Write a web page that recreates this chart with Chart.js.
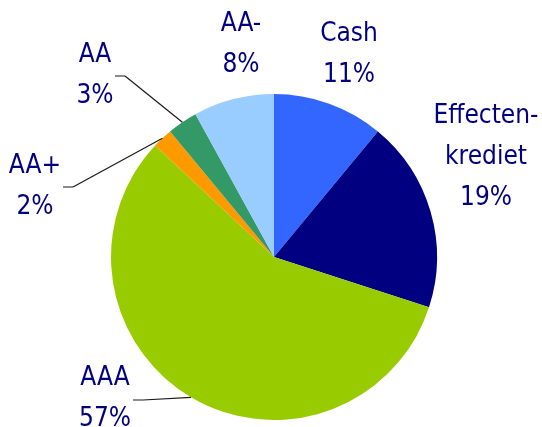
<!DOCTYPE html>
<html>
<head>
<meta charset="utf-8">
<script src="https://cdn.jsdelivr.net/npm/chart.js@4/dist/chart.umd.min.js"></script>
<style>
  html, body { margin: 0; padding: 0; background: #fff; }
  #wrap { width: 542px; height: 427px; }
</style>
</head>
<body>
<div id="wrap"><canvas id="myChart" width="542" height="427"></canvas></div>
<script>
// slice data, clockwise from 12 o'clock
var categories = ["Cash", "Effecten-krediet", "AAA", "AA+", "AA", "AA-"];
var shares = [11, 19, 57, 2, 3, 8];
var colors = ["#3366ff", "#000080", "#99cc00", "#ff9900", "#339966", "#99ccff"];

// where each label sits: centre x, first baseline y, optional leader elbow
var labelPos = [
	{ x: 349, y: 41 },
	{ x: 486, y: 123 },
	{ x: 105, y: 385, elbow: [133, 400] },
	{ x: 35, y: 173, elbow: [63, 187] },
	{ x: 95, y: 62, elbow: [115, 76] },
	{ x: 241, y: 31 },
];

function labelLines(name, value) {
	var lines = [];
	var i = name.indexOf("-");
	if (i > 0 && i < name.length - 1) {
		lines.push(name.slice(0, i + 1));
		lines.push(name.slice(i + 1));
	} else {
		lines.push(name);
	}
	lines.push(value + "%");
	return lines;
}

const sliceLabels = {
	id: "sliceLabels",
	afterDraw: function (chart) {
		const ctx = chart.ctx;
		const meta = chart.getDatasetMeta(0);
		ctx.save();
		meta.data.forEach(function (arc, i) {
			var p = labelPos[i];
			var props = arc.getProps(["x", "y", "startAngle", "endAngle", "outerRadius"], true);
			if (p.elbow) {
				var mid = (props.startAngle + props.endAngle) / 2;
				var ex = props.x + Math.cos(mid) * props.outerRadius;
				var ey = props.y + Math.sin(mid) * props.outerRadius;
				ctx.strokeStyle = "#8c8c8c";
				ctx.lineWidth = 2;
				ctx.beginPath();
				ctx.moveTo(p.elbow[0], p.elbow[1]);
				ctx.lineTo(p.elbow[0] + 10, p.elbow[1]);
				ctx.stroke();
				ctx.strokeStyle = "#1a1a1a";
				ctx.lineWidth = 1.2;
				ctx.beginPath();
				ctx.moveTo(p.elbow[0] + 10, p.elbow[1]);
				ctx.lineTo(ex, ey);
				ctx.stroke();
			}
			ctx.fillStyle = "#000080";
			ctx.font = '26px "DejaVu Sans Condensed", "DejaVu Sans", sans-serif';
			ctx.textAlign = "center";
			ctx.textBaseline = "alphabetic";
			labelLines(categories[i], shares[i]).forEach(function (line, k) {
				ctx.fillText(line, p.x, p.y + k * 41);
			});
		});
		ctx.restore();
	},
};

const config = {
	type: "pie",
	data: {
		labels: categories,
		datasets: [
			{
				data: shares,
				backgroundColor: colors,
				borderWidth: 0,
			},
		],
	},
	options: {
		responsive: false,
		animation: false,
		layout: {
			padding: { top: 94, bottom: 7, left: 111, right: 105 },
		},
		plugins: {
			legend: { display: false },
			tooltip: { enabled: false },
		},
	},
	plugins: [sliceLabels],
};

const myChart = new Chart(document.getElementById("myChart"), config);
</script>
</body>
</html>
